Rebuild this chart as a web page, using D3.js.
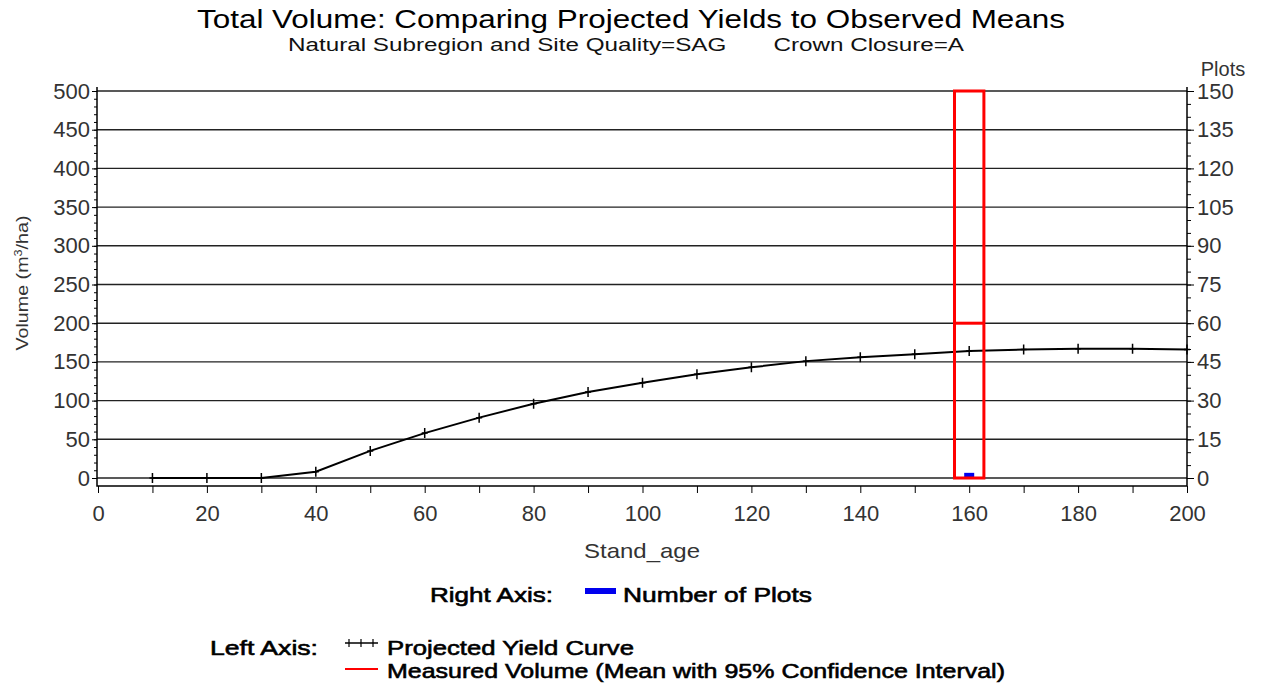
<!DOCTYPE html>
<html><head><meta charset="utf-8">
<script src="https://cdn.jsdelivr.net/npm/d3@7"></script>
<style>
body{margin:0;background:#fff;}
text{font-family:"Liberation Sans",Arial,sans-serif;}
</style></head>
<body><svg id="c" width="1262" height="687"></svg>
<script>
const ages = [10,20,30,40,50,60,70,80,90,100,110,120,130,140,150,160,170,180,190,200];
const yieldVals = [0,0,0,8,35,58,78,96,111,123,134,143,151,156,160,164,166,167,167,166];
const obsAge = [160];
const obsMean = [200];
const obsLower = [0];
const obsUpper = [500];
const plotCounts = [2];
const xTicks = [0,20,40,60,80,100,120,140,160,180,200];
const yTicks = [0,50,100,150,200,250,300,350,400,450,500];
const rTicks = [0,15,30,45,60,75,90,105,120,135,150];

const svg = d3.select("#c");
const L=97, R=1187, T=91, B=478, AX=486;
const x = d3.scaleLinear().domain([0,200]).range([98,R]);
const y = d3.scaleLinear().domain([0,500]).range([B,T]);
const yr = d3.scaleLinear().domain([0,150]).range([B,T]);
const TF = 22;

// title
svg.append("text").attr("x",631).attr("y",28).attr("text-anchor","middle")
  .attr("font-size",25).attr("fill","#000").attr("textLength",868).attr("lengthAdjust","spacingAndGlyphs")
  .text("Total Volume: Comparing Projected Yields to Observed Means");
svg.append("text").attr("x",626).attr("y",51).attr("text-anchor","middle")
  .attr("font-size",17.5).attr("fill","#111").attr("textLength",676).attr("lengthAdjust","spacingAndGlyphs")
  .attr("xml:space","preserve")
  .text("Natural Subregion and Site Quality=SAG       Crown Closure=A");

// gridlines
svg.append("g").selectAll("line").data(yTicks).join("line")
  .attr("x1",L).attr("x2",R).attr("y1",d=>y(d)).attr("y2",d=>y(d))
  .attr("stroke","#222").attr("stroke-width",1.4);

// frame
svg.append("path").attr("d",`M${L},${T-4}V${AX}H${R}V${T-4}`).attr("fill","none").attr("stroke","#000").attr("stroke-width",1.5);

// left axis
const gl = svg.append("g").attr("transform",`translate(${L},0)`)
  .call(d3.axisLeft(y).tickValues(yTicks).tickSize(5).tickPadding(2));
gl.select(".domain").remove();
gl.selectAll("text").attr("font-size",TF).attr("fill","#333").attr("font-family","Liberation Sans, Arial");
svg.append("g").attr("transform",`translate(${L},0)`)
  .call(d3.axisLeft(y).tickValues(d3.range(0,501,10)).tickSize(3).tickFormat(""))
  .select(".domain").remove();

// right axis
const gr = svg.append("g").attr("transform",`translate(${R},0)`)
  .call(d3.axisRight(yr).tickValues(rTicks).tickSize(7).tickPadding(3));
gr.select(".domain").remove();
gr.selectAll("text").attr("font-size",TF).attr("fill","#333").attr("font-family","Liberation Sans, Arial");
svg.append("g").attr("transform",`translate(${R},0)`)
  .call(d3.axisRight(yr).tickValues(d3.range(0,151,5)).tickSize(4).tickFormat(""))
  .select(".domain").remove();
svg.append("text").attr("x",1223).attr("y",76).attr("text-anchor","middle").attr("font-size",20).attr("fill","#333").text("Plots");

// x axis
const gx = svg.append("g").attr("transform",`translate(0,${AX})`)
  .call(d3.axisBottom(x).tickValues(xTicks).tickSize(7).tickPadding(12));
gx.select(".domain").remove();
gx.selectAll("text").attr("font-size",TF).attr("fill","#333").attr("font-family","Liberation Sans, Arial");
svg.append("g").attr("transform",`translate(0,${AX})`)
  .call(d3.axisBottom(x).tickValues(d3.range(10,200,20)).tickSize(7).tickFormat(""))
  .select(".domain").remove();

svg.append("text").attr("x",642).attr("y",558).attr("text-anchor","middle").attr("font-size",21)
  .attr("textLength",116).attr("lengthAdjust","spacingAndGlyphs").attr("fill","#333").text("Stand_age");
svg.append("text").attr("transform","translate(28,283) rotate(-90)").attr("text-anchor","middle")
  .attr("font-size",17).attr("fill","#333").attr("textLength",135).attr("lengthAdjust","spacingAndGlyphs")
  .html("Volume (m<tspan baseline-shift='super' font-size='11'>3</tspan>/ha)");

// yield curve
const line = d3.line().x(d=>x(d[0])).y(d=>y(d[1]));
const pts = ages.map((a,i)=>[a,yieldVals[i]]);
svg.append("path").datum(pts).attr("d",line).attr("fill","none").attr("stroke","#000").attr("stroke-width",2);
svg.append("g").selectAll("path").data(pts).join("path")
  .attr("d",d=>`M${x(d[0])},${y(d[1])-5}v10M${x(d[0])-3},${y(d[1])}h6`)
  .attr("stroke","#000").attr("stroke-width",1.5);

// number of plots bar (right axis)
svg.append("g").selectAll("rect").data(obsAge).join("rect")
  .attr("x",d=>x(d)-5).attr("width",10)
  .attr("y",(d,i)=>yr(plotCounts[i])).attr("height",(d,i)=>yr(0)-yr(plotCounts[i]))
  .attr("fill","#0000ee");

// measured volume box
const hw = 2.7;
const gb = svg.append("g");
gb.selectAll("rect").data(obsAge).join("rect")
  .attr("x",d=>x(d-hw)).attr("width",d=>x(d+hw)-x(d-hw))
  .attr("y",(d,i)=>y(obsUpper[i])).attr("height",(d,i)=>y(obsLower[i])-y(obsUpper[i]))
  .attr("fill","none").attr("stroke","#ff0000").attr("stroke-width",3);
gb.selectAll("line").data(obsAge).join("line")
  .attr("x1",d=>x(d-hw)).attr("x2",d=>x(d+hw)).attr("y1",(d,i)=>y(obsMean[i])).attr("y2",(d,i)=>y(obsMean[i]))
  .attr("stroke","#ff0000").attr("stroke-width",3);

// legend
function lt(xp,yp,w,s){
  svg.append("text").attr("x",xp).attr("y",yp).attr("font-size",21).attr("fill","#000")
    .attr("stroke","#000").attr("stroke-width",0.6)
    .attr("textLength",w).attr("lengthAdjust","spacingAndGlyphs").text(s);
}
lt(430,602,123,"Right Axis:");
svg.append("rect").attr("x",585).attr("y",588).attr("width",31).attr("height",6).attr("fill","#0000ee");
lt(623,602,189,"Number of Plots");

lt(210,655,108,"Left Axis:");
svg.append("path").attr("d","M345,643H378").attr("stroke","#000").attr("stroke-width",1.5);
svg.append("g").selectAll("path").data([349,361,373]).join("path")
  .attr("d",d=>`M${d},639v8`).attr("stroke","#000").attr("stroke-width",1.2);
lt(387,655,247,"Projected Yield Curve");
svg.append("path").attr("d","M345,669H378").attr("stroke","#ff0000").attr("stroke-width",2);
lt(387,678,618,"Measured Volume (Mean with 95% Confidence Interval)");
</script></body></html>
